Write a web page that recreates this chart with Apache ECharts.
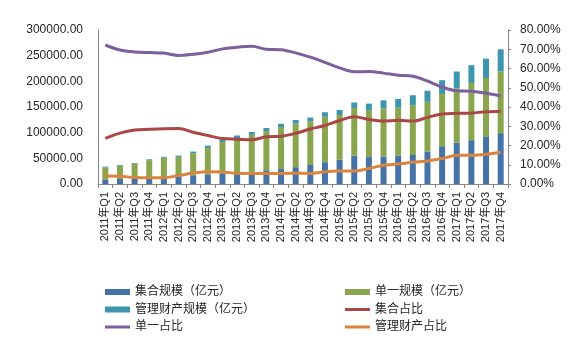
<!DOCTYPE html>
<html><head><meta charset="utf-8">
<script src="https://cdn.jsdelivr.net/npm/echarts@6/dist/echarts.min.js"></script>
<style>html,body{margin:0;padding:0;background:#fff}#c{width:583px;height:355px}</style>
</head><body><div id="c"></div>
<script>
const categories = ["2011年Q1","2011年Q2","2011年Q3","2011年Q4","2012年Q1","2012年Q2","2012年Q3","2012年Q4","2013年Q1","2013年Q2","2013年Q3","2013年Q4","2014年Q1","2014年Q2","2014年Q3","2014年Q4","2015年Q1","2015年Q2","2015年Q3","2015年Q4","2016年Q1","2016年Q2","2016年Q3","2016年Q4","2017年Q1","2017年Q2","2017年Q3","2017年Q4"];
const jiheScale = [8010,9770,11450,13660,15210,15960,17000,18820,20600,22020,23300,26730,29090,32820,37040,42500,47550,55550,52460,53300,54880,56540,62870,73600,80410,85390,91540,99060];
const danyiScale = [24400,25750,28060,32850,36040,37010,42600,51090,61280,67190,72430,76370,81760,84990,85340,88350,86890,92520,91450,93890,93680,96820,97210,101910,106040,111530,114970,119960];
const guanliScale = [1390,1480,1390,1590,1750,2440,3600,4780,5410,5290,5570,6000,6450,6990,7120,8950,9650,10630,12680,15810,17240,19540,21620,26690,32650,34480,37590,43310];
const jiheShare = [23.7,26.4,28.0,28.4,28.7,28.8,26.9,25.2,23.6,23.3,23.0,24.5,24.8,26.3,28.6,30.4,33.0,35.0,33.5,32.7,33.1,32.7,34.6,36.4,36.7,36.9,37.5,37.8];
const danyiShare = [72.2,69.6,68.6,68.3,68.0,66.8,67.4,68.4,70.2,71.1,71.5,70.0,69.7,68.1,65.9,63.2,60.3,58.3,58.4,57.6,56.5,56.0,53.5,50.4,48.4,48.2,47.1,45.7];
const guanliShare = [4.1,4.0,3.4,3.3,3.3,4.4,5.7,6.4,6.2,5.6,5.5,5.5,5.5,5.6,5.5,6.4,6.7,6.7,8.1,9.7,10.4,11.3,11.9,13.2,14.9,14.9,15.4,16.5];
const leftTicks = [0,50000,100000,150000,200000,250000,300000];
const rightTicks = [0,10,20,30,40,50,60,70,80];

const FONT = '"Liberation Sans", Arial, "Noto Sans CJK SC", sans-serif';
const TXT = '#262626';
const C = {blue:'#4572A7', green:'#89A54E', teal:'#3D96AE', red:'#AA4643', purple:'#7D5F9E', orange:'#DB843D'};
const LINE_ICON = 'path://M0,0L0.01,0L0.01,0.01Z M0,6L0.01,6L0.01,5.99Z M0,1.5L25,1.5L25,4.5L0,4.5Z';

const chart = echarts.init(document.getElementById('c'), null, {renderer:'canvas'});
const lineSeries = (name, data, color) => ({
  name, type:'line', yAxisIndex:1, data, smooth:0.35, symbol:'none', showSymbol:false,
  lineStyle:{width:3, color}, itemStyle:{color}, z:5
});
const legendText = {fontSize:12, color:TXT, fontFamily:FONT};
chart.setOption({
  animation:false,
  grid:{left:98, right:75, top:30, bottom:171, containLabel:false},
  legend:[
    {orient:'vertical', left:100, top:281, itemWidth:25, itemHeight:6, itemGap:5.5, textStyle:legendText,
     data:[{name:'集合规模（亿元）', icon:'rect'},{name:'管理财产规模（亿元）', icon:'rect'},{name:'单一占比', icon:LINE_ICON}]},
    {orient:'vertical', left:340, top:281, itemWidth:25, itemHeight:6, itemGap:5.5, textStyle:legendText,
     data:[{name:'单一规模（亿元）', icon:'rect'},{name:'集合占比', icon:LINE_ICON},{name:'管理财产占比', icon:LINE_ICON}]}
  ],
  xAxis:{type:'category', data:categories, boundaryGap:true,
    axisLine:{lineStyle:{color:'#868686', width:1}},
    axisTick:{show:true, length:4, lineStyle:{color:'#868686'}, alignWithLabel:false},
    axisLabel:{rotate:90, fontSize:11, color:TXT, fontFamily:FONT, margin:8, interval:0}},
  yAxis:[
    {type:'value', min:leftTicks[0], max:leftTicks[leftTicks.length-1], interval:50000,
     splitLine:{show:false}, axisLine:{show:true, lineStyle:{color:'#868686'}}, axisTick:{show:false},
     axisLabel:{fontSize:12, color:TXT, fontFamily:FONT, margin:15, formatter:v=>v.toFixed(2)}},
    {type:'value', min:rightTicks[0], max:rightTicks[rightTicks.length-1], interval:10,
     splitLine:{show:false}, axisLine:{show:true, lineStyle:{color:'#868686'}},
     axisTick:{show:true, length:3, inside:false, lineStyle:{color:'#868686'}},
     axisLabel:{fontSize:12, color:TXT, fontFamily:FONT, margin:12, formatter:v=>v.toFixed(2)+'%'}}
  ],
  series:[
    {name:'集合规模（亿元）', type:'bar', stack:'s', data:jiheScale, barWidth:6, itemStyle:{color:C.blue}},
    {name:'单一规模（亿元）', type:'bar', stack:'s', data:danyiScale, barWidth:6, itemStyle:{color:C.green}},
    {name:'管理财产规模（亿元）', type:'bar', stack:'s', data:guanliScale, barWidth:6, itemStyle:{color:C.teal}},
    lineSeries('集合占比', jiheShare, C.red),
    lineSeries('单一占比', danyiShare, C.purple),
    lineSeries('管理财产占比', guanliShare, C.orange)
  ]
});
</script></body></html>
